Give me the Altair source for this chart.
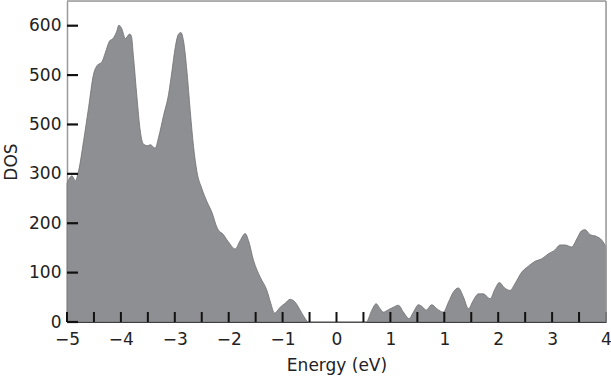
import json
import altair as alt
import pandas as pd

# Energy axis values (plot coordinates run from -5 to 5; printed labels below)
energy = [-5.00, -4.907, -4.846, -4.785, -4.692, -4.600, -4.507, -4.444, -4.351, -4.290,
          -4.210, -4.147, -4.086, -4.036, -3.980, -3.919, -3.839, -3.808, -3.765, -3.702,
          -3.641, -3.580, -3.505, -3.455, -3.363, -3.301, -3.209, -3.116, -3.053, -2.992,
          -2.931, -2.886, -2.838, -2.775, -2.714, -2.652, -2.590, -2.497, -2.404, -2.311,
          -2.219, -2.157, -2.126, -2.004, -1.879, -1.787, -1.694, -1.633, -1.540, -1.416,
          -1.291, -1.217, -1.151, -1.045, -0.952, -0.860, -0.767, -0.674, -0.581, -0.520,
          0.550, 0.656, 0.735, 0.809, 0.871, 0.963, 1.056, 1.149, 1.241, 1.347,
          1.427, 1.520, 1.601, 1.662, 1.768, 1.861, 1.983, 2.076, 2.169, 2.261,
          2.354, 2.447, 2.539, 2.632, 2.725, 2.849, 2.941, 3.022, 3.109, 3.220,
          3.313, 3.437, 3.559, 3.684, 3.808, 3.930, 4.054, 4.147, 4.240, 4.364,
          4.457, 4.549, 4.611, 4.704, 4.828, 4.920, 5.000]
dos = [281, 296, 286, 306, 367, 434, 502, 519, 527, 545,
       569, 574, 586, 601, 593, 574, 583, 580, 535, 455,
       387, 360, 357, 359, 352, 374, 418, 461, 508, 556,
       583, 586, 569, 508, 428, 355, 305, 270, 244, 222,
       192, 182, 180, 162, 148, 165, 179, 165, 125, 91,
       64, 37, 18, 30, 38, 46, 40, 24, 7, 0,
       0, 24, 37, 27, 20, 25, 30, 34, 20, 7,
       20, 35, 30, 24, 35, 27, 20, 40, 61, 69,
       51, 27, 44, 57, 57, 47, 67, 80, 70, 64,
       78, 101, 113, 123, 128, 138, 146, 156, 156, 152,
       168, 185, 187, 177, 173, 166, 152]

x_tick_values = [-5, -4, -3, -2, -1, 0, 1, 2, 3, 4, 5]
x_tick_labels = ["\u22125", "\u22124", "\u22123", "\u22122", "\u22121", "0", "1", "1", "2", "3", "4"]
x_minor_ticks = [-5, -4.5, -4, -3.5, -3, -2.5, -2, -1.5, -1, -0.5, 0, 0.5,
                 1, 1.5, 2, 2.5, 3, 3.5, 4, 4.5, 5]
y_tick_values = [0, 100, 200, 300, 400, 500, 600]
y_tick_labels = ["0", "100", "200", "300", "500", "500", "600"]

W, H = 539, 321
FONT = "DejaVu Sans"

df = pd.DataFrame({"Energy": energy, "DOS": dos})
xt = pd.DataFrame({"t": x_minor_ticks})
yt = pd.DataFrame({"t": y_tick_values})

xscale = alt.Scale(domain=[-5, 5], nice=False, zero=False)
yscale = alt.Scale(domain=[0, 650], nice=False)

x_label_expr = json.dumps(x_tick_labels) + "[round(datum.value + 5)]"
y_label_expr = json.dumps(y_tick_labels) + "[round(datum.value / 100)]"

area = alt.Chart(df).mark_area(
    interpolate="monotone", color="#8e8f92", stroke="#707073", strokeWidth=0.8
).encode(
    x=alt.X("Energy:Q", scale=xscale, title="Energy (eV)",
            axis=alt.Axis(values=x_tick_values, labelExpr=x_label_expr, ticks=False,
                          grid=False, domainColor="#222222", domainWidth=1.2,
                          labelFlush=False, labelBound=False, labelOverlap=False,
                          labelFont=FONT, labelFontSize=17, labelColor="#222222",
                          labelPadding=9, titleFont=FONT, titleFontSize=17,
                          titleFontWeight="normal", titleColor="#222222", titlePadding=10)),
    y=alt.Y("DOS:Q", scale=yscale, title="DOS",
            axis=alt.Axis(values=y_tick_values, labelExpr=y_label_expr, ticks=False,
                          grid=False, domainColor="#9a9a9a", domainWidth=1.5,
                          labelFlush=False, labelOverlap=False,
                          labelFont=FONT, labelFontSize=17, labelColor="#222222",
                          labelPadding=6, titleFont=FONT, titleFontSize=17,
                          titleFontWeight="normal", titleColor="#222222", titlePadding=8)),
)

xticks = alt.Chart(xt).mark_rule(color="#111111", strokeWidth=2).encode(
    x=alt.X("t:Q", scale=xscale),
    y=alt.value(H),
    y2=alt.value(H - 10),
)

yticks = alt.Chart(yt).mark_rule(color="#111111", strokeWidth=2.2).encode(
    y=alt.Y("t:Q", scale=yscale),
    x=alt.value(0),
    x2=alt.value(11),
)

top_border = alt.Chart(pd.DataFrame({"a": [0]})).mark_rule(color="#9a9a9a", strokeWidth=1.5).encode(
    x=alt.value(0), x2=alt.value(W), y=alt.value(0)
)
right_border = alt.Chart(pd.DataFrame({"a": [0]})).mark_rule(color="#9a9a9a", strokeWidth=1.5).encode(
    x=alt.value(W), y=alt.value(0), y2=alt.value(H)
)

chart = alt.layer(area, xticks, yticks, top_border, right_border).properties(
    width=W, height=H,
    autosize=alt.AutoSizeParams(type="none"),
    padding={"left": 67, "top": 1, "right": 5, "bottom": 54},
).configure_view(stroke=None).configure(background="white")

chart.save("out.html", embed_options={"renderer": "svg", "actions": False})
